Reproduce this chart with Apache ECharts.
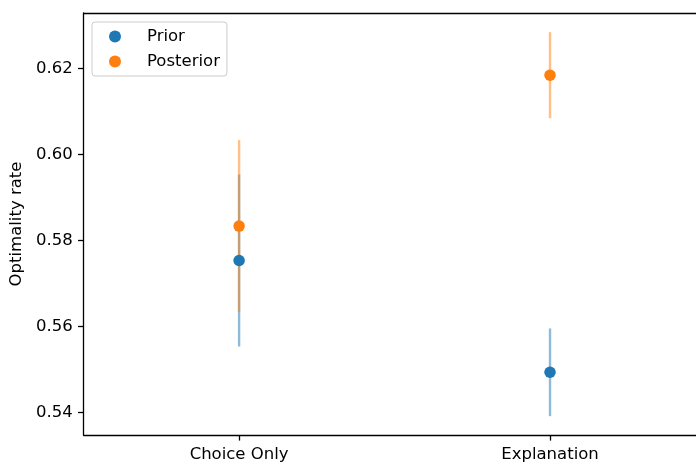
<!DOCTYPE html>
<html>
<head>
<meta charset="utf-8">
<script src="https://cdn.jsdelivr.net/npm/echarts@6/dist/echarts.min.js"></script>
<style>
  html, body { margin: 0; padding: 0; background: #fff; }
  #chart { width: 696px; height: 464px; }
</style>
</head>
<body>
<div id="chart"></div>
<script>
// Optimality rate by condition, with error bars
const categories = ['Choice Only', 'Explanation'];
const priorMean = [0.5753, 0.5493];
const priorErr = [0.0200, 0.0102];
const posteriorMean = [0.5833, 0.6184];
const posteriorErr = [0.0200, 0.0100];
const yTicks = [0.54, 0.56, 0.58, 0.60, 0.62];

const BLUE = '#1f77b4';
const ORANGE = '#ff7f0e';
const FONT = 'DejaVu Sans';
const FONT_SIZE = 16.5;

// Category positions on a numeric x scale (0, 1, ...); the view runs past the right edge
const xTicks = categories.map((_, i) => i);
const X_MIN = -0.5;
const X_MAX = 1.4695;

// Vertical error bar drawn from mean - err to mean + err
function errorBars(means, errs, stroke) {
  return {
    type: 'custom',
    silent: true,
    data: means.map((m, i) => [i, m - errs[i], m + errs[i]]),
    encode: { x: 0, y: [1, 2] },
    renderItem: (params, api) => {
      const lo = api.coord([api.value(0), api.value(1)]);
      const hi = api.coord([api.value(0), api.value(2)]);
      return {
        type: 'line',
        shape: { x1: lo[0], y1: lo[1], x2: hi[0], y2: hi[1] },
        style: { stroke: stroke, lineWidth: 2.4 }
      };
    }
  };
}

function points(name, means, color) {
  return {
    type: 'scatter',
    name: name,
    data: means.map((m, i) => [i, m]),
    symbol: 'circle',
    symbolSize: 11.5,
    itemStyle: { color: color, opacity: 1 },
    emphasis: { disabled: true }
  };
}

const axisLineStyle = { color: '#000', width: 1.3 };

const chart = echarts.init(document.getElementById('chart'), null, { renderer: 'canvas' });
chart.setOption({
  animation: false,
  backgroundColor: '#fff',
  textStyle: { fontFamily: FONT },
  grid: { left: 83, top: 13, right: 0, bottom: 29, show: false },
  legend: {
    data: [{ name: 'Prior', icon: 'circle' }, { name: 'Posterior', icon: 'circle' }],
    orient: 'vertical',
    left: 92, top: 22,
    padding: [6, 7, 6, 17],
    itemWidth: 12, itemHeight: 12, itemGap: 8,
    textStyle: { fontFamily: FONT, fontSize: FONT_SIZE, color: '#000', lineHeight: 16, padding: [0, 0, 0, 21] },
    borderColor: '#cccccc', borderWidth: 1, borderRadius: 3,
    backgroundColor: 'rgba(255,255,255,0.8)',
    selectedMode: false
  },
  xAxis: [
    {
      type: 'value',
      min: X_MIN,
      max: X_MAX,
      position: 'bottom',
      axisLine: { show: true, onZero: false, lineStyle: axisLineStyle },
      axisTick: { show: true, length: 5.6, customValues: xTicks, lineStyle: axisLineStyle },
      axisLabel: {
        fontFamily: FONT, fontSize: FONT_SIZE, color: '#000', margin: 11,
        customValues: xTicks,
        formatter: v => categories[Math.round(v)]
      },
      splitLine: { show: false }
    },
    {
      // top spine
      type: 'value',
      min: X_MIN,
      max: X_MAX,
      position: 'top',
      axisLine: { show: true, onZero: false, lineStyle: axisLineStyle },
      axisTick: { show: false },
      axisLabel: { show: false },
      splitLine: { show: false }
    }
  ],
  yAxis: {
    type: 'value',
    min: 0.53472,
    max: 0.63286,
    name: 'Optimality rate',
    nameLocation: 'middle',
    nameGap: 55,
    nameTextStyle: { fontFamily: FONT, fontSize: FONT_SIZE, color: '#000' },
    axisLine: { show: true, onZero: false, lineStyle: axisLineStyle },
    axisTick: { show: true, length: 5.6, customValues: yTicks, lineStyle: axisLineStyle },
    axisLabel: {
      fontFamily: FONT, fontSize: FONT_SIZE, color: '#000', margin: 11,
      customValues: yTicks,
      formatter: v => v.toFixed(2)
    },
    splitLine: { show: false }
  },
  series: [
    errorBars(priorMean, priorErr, 'rgba(31,119,180,0.5)'),
    points('Prior', priorMean, BLUE),
    errorBars(posteriorMean, posteriorErr, 'rgba(255,127,14,0.5)'),
    points('Posterior', posteriorMean, ORANGE)
  ]
});
</script>
</body>
</html>
